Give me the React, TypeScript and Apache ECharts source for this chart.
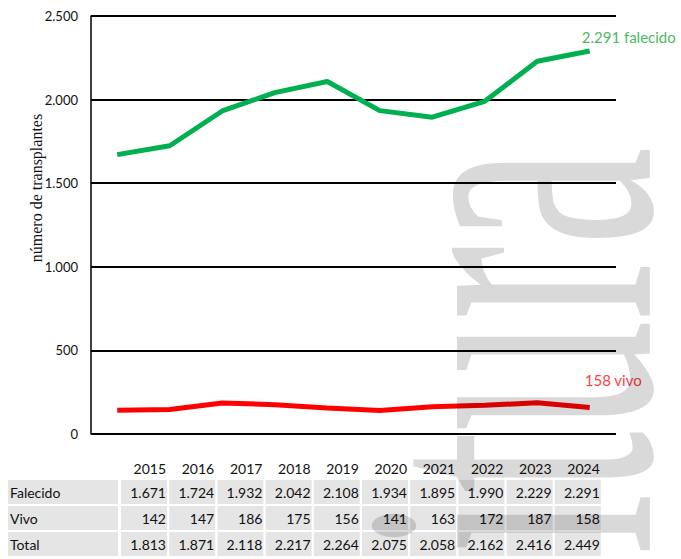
import React, { useEffect, useRef } from "react";
import * as echarts from "echarts";

const years = ["2015", "2016", "2017", "2018", "2019", "2020", "2021", "2022", "2023", "2024"];
const falecido = [1671, 1724, 1932, 2042, 2108, 1934, 1895, 1990, 2229, 2291];
const vivo = [142, 147, 186, 175, 156, 141, 163, 172, 187, 158];
const total = [1813, 1871, 2118, 2217, 2264, 2075, 2058, 2162, 2416, 2449];
const rowLabels = ["Falecido", "Vivo", "Total"];
const yTicks = [0, 500, 1000, 1500, 2000, 2500];

const fmt = (v: number) => String(v).replace(/\B(?=(\d{3})+(?!\d))/g, ".");

const FONT = "Lato, 'Noto Sans', sans-serif";

export default function App() {
  const ref = useRef<HTMLDivElement>(null);
  useEffect(() => {
    document.body.style.margin = "0";
    const chart = echarts.init(ref.current!, undefined, { renderer: "svg" });

    const rows = [falecido, vivo, total];
    const colX0 = 121;
    const colStep = 48.2;
    const colW = 46;
    const rowY0 = 480;
    const rowStep = 26;
    const rowH = 24;
    const table: any[] = [];
    years.forEach((y, i) => {
      table.push({
        type: "text",
        x: colX0 + i * colStep + colW - 1,
        y: 468,
        style: { text: y, font: `14px ${FONT}`, fill: "#111", textAlign: "right", textVerticalAlign: "middle" },
      });
    });
    rows.forEach((r, ri) => {
      const y = rowY0 + ri * rowStep;
      table.push({
        type: "rect",
        shape: { x: 8, y, width: 110, height: rowH },
        style: { fill: "#e5e5e5" },
      });
      table.push({
        type: "text",
        x: 10,
        y: y + rowH / 2,
        style: { text: rowLabels[ri], font: `14px ${FONT}`, fill: "#111", textAlign: "left", textVerticalAlign: "middle" },
      });
      r.forEach((v, i) => {
        const x = colX0 + i * colStep;
        table.push({
          type: "rect",
          shape: { x, y, width: colW, height: rowH },
          style: { fill: "#e5e5e5" },
        });
        table.push({
          type: "text",
          x: x + colW - 1,
          y: y + rowH / 2,
          style: { text: fmt(v), font: `14px ${FONT}`, fill: "#111", textAlign: "right", textVerticalAlign: "middle" },
        });
      });
    });

    chart.setOption({
      animation: false,
      grid: { left: 91, top: 16, width: 525, height: 418, containLabel: false },
      xAxis: {
        type: "category",
        data: years,
        boundaryGap: true,
        axisLine: { show: false },
        axisTick: { show: false },
        axisLabel: { show: false },
        splitLine: { show: false },
      },
      yAxis: {
        type: "value",
        min: yTicks[0],
        max: yTicks[yTicks.length - 1],
        interval: 500,
        axisLine: { show: true, lineStyle: { color: "#000", width: 1.5 } },
        axisTick: { show: false },
        axisLabel: {
          margin: 13,
          formatter: (v: number) => fmt(v),
          fontFamily: FONT,
          fontSize: 13,
          color: "#111",
        },
        splitLine: { show: true, lineStyle: { color: "#000", width: 2 } },
      },
      series: [
        {
          type: "line",
          name: "falecido",
          data: falecido,
          symbol: "none",
          lineStyle: { color: "#00b050", width: 5 },
          z: 3,
          endLabel: {
            show: true,
            distance: 5,
            offset: [-13, -14],
            formatter: (p: any) => `${fmt(p.value)} falecido`,
            fontFamily: FONT,
            fontSize: 15,
            color: "#4cb866",
          },
        },
        {
          type: "line",
          name: "vivo",
          data: vivo,
          symbol: "none",
          lineStyle: { color: "#ff0000", width: 5 },
          z: 3,
          endLabel: {
            show: true,
            distance: 5,
            offset: [-10, -28],
            formatter: (p: any) => `${fmt(p.value)} vivo`,
            fontFamily: FONT,
            fontSize: 15,
            color: "#ff4040",
          },
        },
      ],
      graphic: [
        {
          type: "text",
          x: 36,
          y: 188,
          rotation: Math.PI / 2,
          style: {
            text: "número de transplantes",
            font: "16px 'Liberation Serif', serif",
            fill: "#111",
            textAlign: "center",
            textVerticalAlign: "middle",
          },
        },
        ...table,
        {
          type: "text",
          x: 508,
          y: 147,
          rotation: Math.PI / 2,
          scaleX: 0.53,
          z: 100,
          silent: true,
          style: {
            text: "itura",
            font: "420px 'Liberation Serif', serif",
            fill: "rgba(0,0,0,0.15)",
            textAlign: "right",
            textVerticalAlign: "middle",
          },
        },
      ],
    });
    return () => chart.dispose();
  }, []);
  return <div ref={ref} style={{ width: 681, height: 559 }} />;
}
